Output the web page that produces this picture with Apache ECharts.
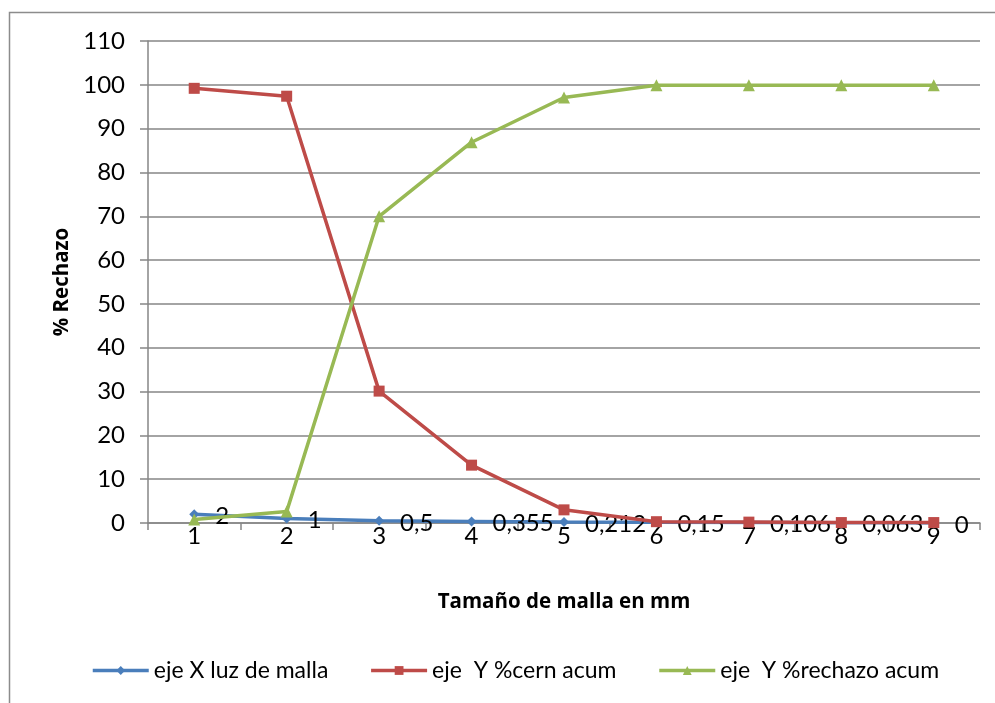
<!DOCTYPE html>
<html>
<head>
<meta charset="utf-8">
<script src="https://cdn.jsdelivr.net/npm/echarts@6/dist/echarts.min.js"></script>
<style>
  html, body { margin: 0; padding: 0; background: #fff; }
  #chart { width: 995px; height: 703px; }
</style>
</head>
<body>
<div id="chart"></div>
<script>
// Sieve positions along the x axis
const categories = ['1', '2', '3', '4', '5', '6', '7', '8', '9'];
// Mesh opening (mm) for each sieve
const meshOpening = [2, 1, 0.5, 0.355, 0.212, 0.15, 0.106, 0.063, 0];
// Cumulative passing (%)
const cumulativePassing = [99.2, 97.4, 30.1, 13.2, 3.0, 0.3, 0.2, 0.1, 0.1];
// Cumulative retained (%)
const cumulativeRetained = [0.8, 2.6, 70.0, 86.9, 97.1, 99.9, 99.9, 99.9, 99.9];
// Y axis range
const yMin = 0, yMax = 110, yStep = 10;

const seriesNames = ['eje X luz de malla', 'eje  Y %cern acum', 'eje  Y %rechazo acum'];
const FONT = 'Lato, "Open Sans", sans-serif';
const TITLE_FONT = '"Open Sans", Lato, sans-serif';
const GRID_GRAY = '#868686';

const chart = echarts.init(document.getElementById('chart'), null, { renderer: 'canvas' });

chart.setOption({
  backgroundColor: '#ffffff',
  animation: false,
  textStyle: { fontFamily: FONT },
  graphic: [{
    type: 'rect',
    shape: { x: 9.5, y: 12.5, width: 1100, height: 800 },
    style: { fill: 'none', stroke: '#8c8c8c', lineWidth: 1.5 },
    silent: true,
    z: -1
  }],
  grid: { left: 148, right: 15, top: 41, bottom: 180 },
  legend: {
    bottom: 16,
    left: 86,
    itemWidth: 56,
    itemHeight: 11,
    itemGap: 41,
    lineStyle: { width: 3.5 },
    textStyle: { fontFamily: FONT, fontSize: 23, color: '#000' },
    data: seriesNames
  },
  xAxis: {
    type: 'category',
    data: categories,
    boundaryGap: true,
    name: 'Tamaño de malla en mm',
    nameLocation: 'middle',
    nameGap: 69,
    nameTextStyle: { fontFamily: TITLE_FONT, fontSize: 20.5, fontWeight: 'bold', color: '#000' },
    axisLine: { lineStyle: { color: GRID_GRAY, width: 1.5 } },
    axisTick: { show: true, alignWithLabel: false, length: 7, lineStyle: { color: GRID_GRAY, width: 1.5 } },
    axisLabel: { fontFamily: FONT, fontSize: 24, color: '#000', margin: 1 },
    splitLine: { show: false }
  },
  yAxis: {
    type: 'value',
    min: yMin,
    max: yMax,
    interval: yStep,
    name: '% Rechazo',
    nameLocation: 'middle',
    nameGap: 74,
    nameRotate: 90,
    nameTextStyle: { fontFamily: TITLE_FONT, fontSize: 20.5, fontWeight: 'bold', color: '#000' },
    axisLine: { show: true, lineStyle: { color: GRID_GRAY, width: 1.5 } },
    axisTick: { show: true, length: 8, lineStyle: { color: GRID_GRAY, width: 1.5 } },
    axisLabel: { fontFamily: FONT, fontSize: 24, color: '#000', margin: 23 },
    splitLine: { show: true, lineStyle: { color: GRID_GRAY, width: 1.5 } }
  },
  series: [
    {
      name: seriesNames[0],
      type: 'line',
      data: meshOpening,
      symbol: 'diamond',
      symbolSize: 10,
      lineStyle: { color: '#4a7ebb', width: 3.5 },
      itemStyle: { color: '#4a7ebb' },
      label: {
        show: true,
        position: 'right',
        distance: 16,
        offset: [0, 2],
        fontFamily: FONT,
        fontSize: 24,
        color: '#000',
        formatter: p => String(p.value).replace('.', ',')
      },
      z: 2
    },
    {
      name: seriesNames[1],
      type: 'line',
      data: cumulativePassing,
      symbol: 'rect',
      symbolSize: 11,
      lineStyle: { color: '#be4b48', width: 3.5 },
      itemStyle: { color: '#be4b48' },
      z: 3
    },
    {
      name: seriesNames[2],
      type: 'line',
      data: cumulativeRetained,
      symbol: 'triangle',
      symbolSize: 12,
      lineStyle: { color: '#98b954', width: 3.5 },
      itemStyle: { color: '#98b954' },
      z: 4
    }
  ]
});
</script>
</body>
</html>
